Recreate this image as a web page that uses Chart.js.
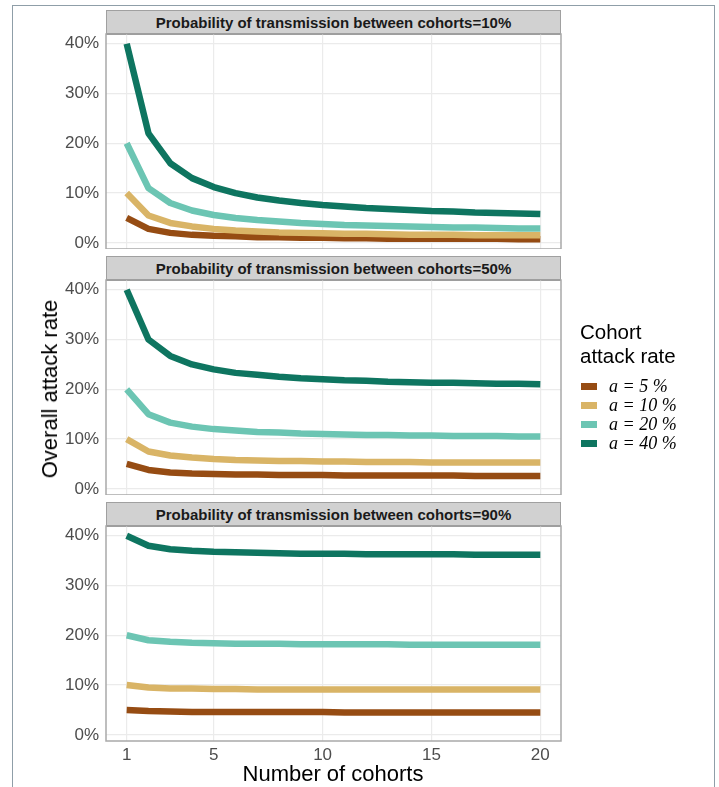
<!DOCTYPE html>
<html>
<head>
<meta charset="utf-8">
<script src="https://cdn.jsdelivr.net/npm/chart.js@4.4.0/dist/chart.umd.min.js"></script>
<style>
  body { margin: 0; background: #ffffff; font-family: 'Liberation Sans', Arial, sans-serif; }
  #page { position: relative; width: 719px; height: 787px; overflow: hidden; background: #fff; }
  #frame { position: absolute; left: 12px; top: 5px; width: 701px; height: 800px; border: 1.5px solid #8f9ea8; border-bottom: none; }
  canvas { position: absolute; left: 0; }
  .strip { position: absolute; left: 106px; width: 453px; height: 22px; background: #d1d1d1;
           border: 1px solid #a0a0a0; border-bottom: 2px solid #7f7f7f;
           font-weight: bold; font-size: 15px; color: #1a1a1a; text-align: center; line-height: 23px; }
  #ytitle { position: absolute; left: 50px; top: 389px; transform: translate(-50%, -50%) rotate(-90deg);
            font-size: 22px; white-space: nowrap; color: #000; }
  #xtitle { position: absolute; left: 333px; top: 774px; transform: translate(-50%, -50%);
            font-size: 22px; white-space: nowrap; color: #000; }
  #legend { position: absolute; left: 580px; top: 320px; color: #000; }
  #legend .ltitle { font-size: 20.5px; line-height: 24px; margin-bottom: 9px; }
  #legend .row { position: relative; height: 19px; }
  #legend .key { position: absolute; left: 1px; top: 6px; width: 16px; height: 7px; }
  #legend .lab { position: absolute; left: 29px; top: 0; font-family: 'Liberation Serif', 'DejaVu Serif', serif;
                 font-style: italic; font-size: 18px; line-height: 19px; white-space: nowrap; }
</style>
</head>
<body>
<div id="page">
  <div id="frame"></div>
  <div class="strip" style="top:10px">Probability of transmission between cohorts=10%</div>
  <div class="strip" style="top:256px">Probability of transmission between cohorts=50%</div>
  <div class="strip" style="top:502px">Probability of transmission between cohorts=90%</div>
  <canvas id="panel1"></canvas>
  <canvas id="panel2"></canvas>
  <canvas id="panel3"></canvas>
  <div id="ytitle">Overall attack rate</div>
  <div id="xtitle">Number of cohorts</div>
  <div id="legend"></div>
</div>

<script>
// number of cohorts (x axis)
let cohorts = [1, 2, 3, 4, 5, 6, 7, 8, 9, 10, 11, 12, 13, 14, 15, 16, 17, 18, 19, 20];

// series names and colours
let seriesNames = ['a = 5 %', 'a = 10 %', 'a = 20 %', 'a = 40 %'];
let seriesColors = ['#964c13', '#d9b466', '#6cc5b3', '#0e7560'];

// overall attack rate in %, transmission 10%
let p10_a5  = [5, 2.8, 2, 1.6, 1.4, 1.3, 1.1, 1.1, 1, 1, 0.9, 0.9, 0.8, 0.8, 0.8, 0.8, 0.8, 0.8, 0.7, 0.7];
let p10_a10 = [10, 5.5, 4, 3.3, 2.8, 2.5, 2.3, 2.1, 2, 1.9, 1.8, 1.8, 1.7, 1.6, 1.6, 1.6, 1.5, 1.5, 1.5, 1.5];
let p10_a20 = [20, 11, 8, 6.5, 5.6, 5, 4.6, 4.3, 4, 3.8, 3.6, 3.5, 3.4, 3.3, 3.2, 3.1, 3.1, 3, 2.9, 2.9];
let p10_a40 = [40, 22, 16, 13, 11.2, 10, 9.1, 8.5, 8, 7.6, 7.3, 7, 6.8, 6.6, 6.4, 6.3, 6.1, 6, 5.9, 5.8];

// transmission 50%
let p50_a5  = [5, 3.8, 3.3, 3.1, 3, 2.9, 2.9, 2.8, 2.8, 2.8, 2.7, 2.7, 2.7, 2.7, 2.7, 2.7, 2.6, 2.6, 2.6, 2.6];
let p50_a10 = [10, 7.5, 6.7, 6.3, 6, 5.8, 5.7, 5.6, 5.6, 5.5, 5.5, 5.4, 5.4, 5.4, 5.3, 5.3, 5.3, 5.3, 5.3, 5.3];
let p50_a20 = [20, 15, 13.3, 12.5, 12, 11.7, 11.4, 11.3, 11.1, 11, 10.9, 10.8, 10.8, 10.7, 10.7, 10.6, 10.6, 10.6, 10.5, 10.5];
let p50_a40 = [40, 30, 26.7, 25, 24, 23.3, 22.9, 22.5, 22.2, 22, 21.8, 21.7, 21.5, 21.4, 21.3, 21.3, 21.2, 21.1, 21.1, 21];

// transmission 90%
let p90_a5  = [5, 4.8, 4.7, 4.6, 4.6, 4.6, 4.6, 4.6, 4.6, 4.6, 4.5, 4.5, 4.5, 4.5, 4.5, 4.5, 4.5, 4.5, 4.5, 4.5];
let p90_a10 = [10, 9.5, 9.3, 9.3, 9.2, 9.2, 9.1, 9.1, 9.1, 9.1, 9.1, 9.1, 9.1, 9.1, 9.1, 9.1, 9.1, 9.1, 9.1, 9.1];
let p90_a20 = [20, 19, 18.7, 18.5, 18.4, 18.3, 18.3, 18.3, 18.2, 18.2, 18.2, 18.2, 18.2, 18.1, 18.1, 18.1, 18.1, 18.1, 18.1, 18.1];
let p90_a40 = [40, 38, 37.3, 37, 36.8, 36.7, 36.6, 36.5, 36.4, 36.4, 36.4, 36.3, 36.3, 36.3, 36.3, 36.3, 36.2, 36.2, 36.2, 36.2];

// tick labels
let xTicks = [1, 5, 10, 15, 20];
let yTicks = [0, 10, 20, 30, 40];

Chart.defaults.font.family = "'Liberation Sans', Arial, sans-serif";

// draws the grey border of the panel on top of the lines
const panelBorder = {
    id: 'panelBorder',
    afterDraw(chart) {
        const a = chart.chartArea;
        const ctx = chart.ctx;
        ctx.save();
        ctx.strokeStyle = '#a9a9a9';
        ctx.lineWidth = 1.5;
        ctx.strokeRect(a.left, a.top, a.right - a.left, a.bottom - a.top);
        ctx.restore();
    }
};

// no extra room for the labels at the ends of the axes
function noPadding(s) {
    s.paddingTop = 0;
    s.paddingBottom = 0;
    s.paddingLeft = 0;
    s.paddingRight = 0;
}

function makePanel(id, plotTop, series, showX) {
    const canvas = document.getElementById(id);
    const bottomExtra = showX ? 30 : 0;
    const plotH = 215;
    canvas.width = 600;
    canvas.height = plotH + 10 + bottomExtra;
    canvas.style.top = (plotTop - 10) + 'px';

    const datasets = series.map((vals, i) => ({
        label: seriesNames[i],
        data: cohorts.map((n, j) => ({ x: n, y: vals[j] })),
        borderColor: seriesColors[i],
        backgroundColor: seriesColors[i],
        borderWidth: 6.5,
        borderCapStyle: 'butt',
        borderJoinStyle: 'round',
        pointRadius: 0,
        tension: 0,
        order: 4 - i                                  // a = 40 % drawn last, on top
    }));

    return new Chart(canvas, {
        type: 'line',
        data: { datasets: datasets },
        options: {
            responsive: false,
            animation: false,
            layout: { padding: { top: 10, left: 0, right: 39, bottom: 0 } },
            plugins: { legend: { display: false }, tooltip: { enabled: false } },
            scales: {
                x: {
                    type: 'linear',
                    min: 0.05,
                    max: 20.95,
                    afterBuildTicks: s => { s.ticks = xTicks.map(v => ({ value: v })); },
                    afterFit: s => { s.height = bottomExtra; noPadding(s); },
                    grid: { color: '#ebebeb', lineWidth: 1.2, drawTicks: false },
                    border: { display: false },
                    ticks: { display: showX, color: '#4d4d4d', font: { size: 17 }, padding: 4, maxRotation: 0 }
                },
                y: {
                    min: -1.24,
                    max: 41.96,
                    afterBuildTicks: s => { s.ticks = yTicks.map(v => ({ value: v })); },
                    afterFit: s => { s.width = 106; noPadding(s); },
                    grid: { color: '#ebebeb', lineWidth: 1.2, drawTicks: false },
                    border: { display: false },
                    ticks: { color: '#4d4d4d', font: { size: 17 }, padding: 7, callback: v => v + '%' }
                }
            }
        },
        plugins: [panelBorder]
    });
}

makePanel('panel1', 34, [p10_a5, p10_a10, p10_a20, p10_a40], false);
makePanel('panel2', 280, [p50_a5, p50_a10, p50_a20, p50_a40], false);
makePanel('panel3', 526, [p90_a5, p90_a10, p90_a20, p90_a40], true);

// legend on the right
let legend = document.getElementById('legend');
let html = '<div class="ltitle">Cohort<br>attack rate</div>';
for (let i = 0; i < seriesNames.length; i++) {
    html += '<div class="row"><div class="key" style="background:' + seriesColors[i] + '"></div>' +
            '<div class="lab">' + seriesNames[i] + '</div></div>';
}
legend.innerHTML = html;
</script>
</body>
</html>
